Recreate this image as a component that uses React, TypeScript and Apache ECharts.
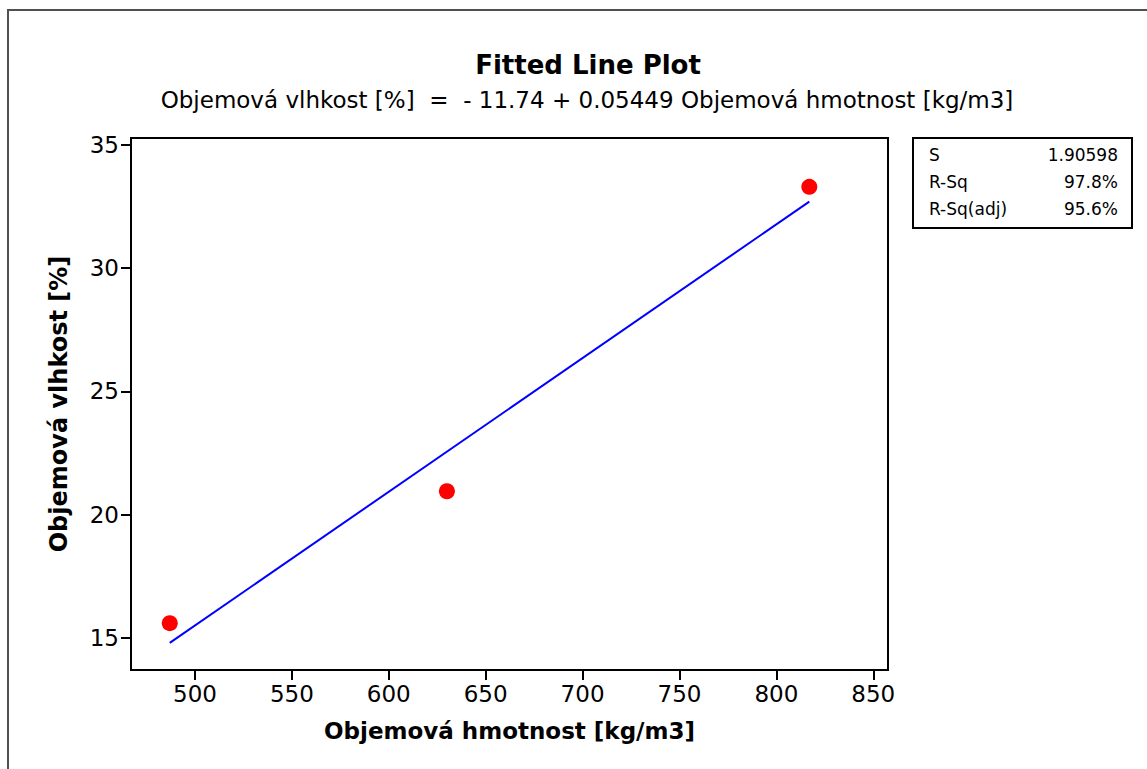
import React, { useEffect, useRef } from "react";
import * as echarts from "echarts";

const titleText = "Fitted Line Plot";
const subtitleText = "Objemová vlhkost [%]  =  - 11.74 + 0.05449 Objemová hmotnost [kg/m3]";
const xName = "Objemová hmotnost [kg/m3]";
const yName = "Objemová vlhkost [%]";

const xTicks = [500, 550, 600, 650, 700, 750, 800, 850];
const yTicks = [15, 20, 25, 30, 35];

const observedX = [487, 630, 817];
const observedY = [15.6, 20.95, 33.3];

const fitX = [487, 817];
const fitY = [14.8, 32.7];

const statLabels = ["S", "R-Sq", "R-Sq(adj)"];
const statValues = ["1.90598", "97.8%", "95.6%"];

const FONT = "'DejaVu Sans', Verdana, sans-serif";

export default function App() {
  const ref = useRef<HTMLDivElement>(null);
  useEffect(() => {
    if (!ref.current) return;
    const chart = echarts.init(ref.current, null, { renderer: "svg" });
    const statElems: any[] = [];
    statLabels.forEach((l, i) => {
      statElems.push({
        type: "text",
        x: 929,
        y: 146 + i * 27,
        style: { text: l, font: `17px ${FONT}`, fill: "#000", textVerticalAlign: "top" },
      });
      statElems.push({
        type: "text",
        x: 1118,
        y: 146 + i * 27,
        style: { text: statValues[i], font: `17px ${FONT}`, fill: "#000", textAlign: "right", textVerticalAlign: "top" },
      });
    });
    chart.setOption({
      animation: false,
      backgroundColor: "#fff",
      textStyle: { fontFamily: FONT },
      title: [
        {
          text: titleText,
          left: 583,
          top: 47,
          textAlign: "center",
          textStyle: { fontSize: 26, fontWeight: "bold", color: "#000", fontFamily: FONT },
        },
        {
          text: subtitleText,
          left: 582,
          top: 83,
          textAlign: "center",
          textStyle: { fontSize: 23, fontWeight: "normal", color: "#000", fontFamily: FONT },
        },
      ],
      grid: {
        left: 131,
        top: 138,
        right: 1147 - 888,
        bottom: 769 - 670,
        show: true,
        borderColor: "#000",
        borderWidth: 2,
        containLabel: false,
      },
      xAxis: {
        type: "value",
        min: 467,
        max: 857.6,
        name: xName,
        nameLocation: "middle",
        nameGap: 49,
        nameTextStyle: { fontSize: 23, fontWeight: "bold", color: "#000", fontFamily: FONT },
        axisLine: { show: true, lineStyle: { color: "#000", width: 2 } },
        axisTick: { show: true, length: 10, lineStyle: { color: "#000", width: 2 }, customValues: xTicks },
        axisLabel: { fontSize: 23, color: "#000", margin: 12, customValues: xTicks, fontFamily: FONT },
        splitLine: { show: false },
      },
      yAxis: {
        type: "value",
        min: 13.7,
        max: 35.28,
        name: yName,
        nameLocation: "middle",
        nameGap: 60,
        nameTextStyle: { fontSize: 24, fontWeight: "bold", color: "#000", fontFamily: FONT },
        axisLine: { show: true, lineStyle: { color: "#000", width: 2 } },
        axisTick: { show: true, length: 10, lineStyle: { color: "#000", width: 2 }, customValues: yTicks },
        axisLabel: { fontSize: 23, color: "#000", margin: 12, customValues: yTicks, fontFamily: FONT },
        splitLine: { show: false },
      },
      series: [
        {
          type: "line",
          data: fitX.map((x, i) => [x, fitY[i]]),
          showSymbol: false,
          lineStyle: { color: "#0000ff", width: 2 },
          z: 2,
        },
        {
          type: "scatter",
          data: observedX.map((x, i) => [x, observedY[i]]),
          symbol: "circle",
          symbolSize: 16,
          itemStyle: { color: "#ff0000", opacity: 1 },
          z: 3,
        },
      ],
      graphic: [
        {
          type: "rect",
          shape: { x: 8, y: 10, width: 1200, height: 800 },
          style: { fill: "none", stroke: "#505050", lineWidth: 2 },
          silent: true,
        },
        {
          type: "rect",
          shape: { x: 913, y: 138, width: 219, height: 90 },
          style: { fill: "#fff", stroke: "#000", lineWidth: 2 },
        },
        ...statElems,
      ],
    });
    return () => chart.dispose();
  }, []);
  return <div ref={ref} style={{ position: "absolute", left: 0, top: 0, width: 1147, height: 769 }} />;
}
